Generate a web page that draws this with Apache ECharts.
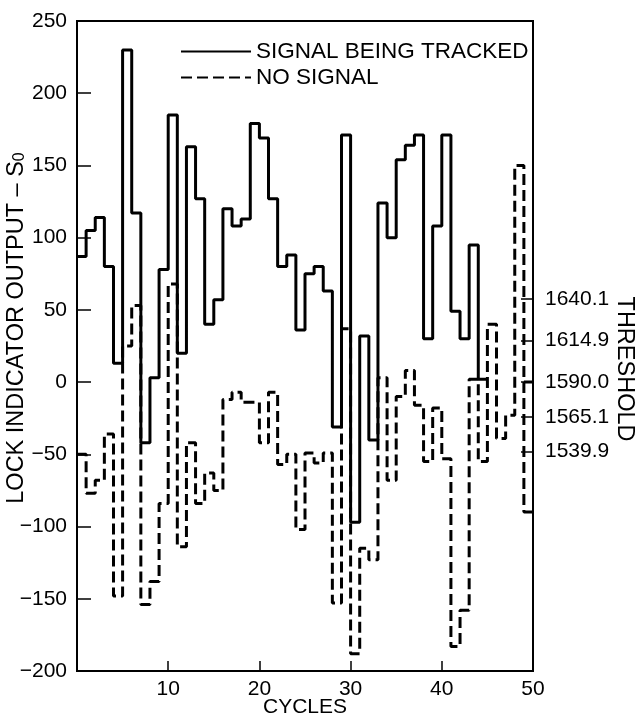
<!DOCTYPE html>
<html><head><meta charset="utf-8">
<script src="https://cdn.jsdelivr.net/npm/echarts@6/dist/echarts.min.js"></script>
<style>html,body{margin:0;padding:0;background:#fff}#c{width:636px;height:717px}</style>
</head><body><div id="c"></div>
<script>
// cycle index at the start of each step (the last value is held until cycle 50)
const cycles = [0,1,2,3,4,5,6,7,8,9,10,11,12,13,14,15,16,17,18,19,20,21,22,23,24,25,26,27,28,29,30,31,32,33,34,35,36,37,38,39,40,41,42,43,44,45,46,47,48,49];
const lastCycle = 50;
// lock indicator output, signal being tracked (solid)
const trackedValues = [87,105,114,80,13,230,117,-42,3,78,185,20,163,127,40,57,120,108,113,179,169,127,80,88,36,75,80,63,-31,171,-97,32,-40,124,100,154,164,171,30,108,171,49,30,95,2,null,null,null,null,0];
// lock indicator output, no signal (dashed)
const noSignalValues = [-50,-77,-68,-36,-148,25,53,-154,-138,-84,68,-114,-42,-84,-63,-75,-12,-7,-14,-14,-42,-7,-57,-50,-102,-49,-56,-49,-153,37,-188,-115,-123,3,-68,-10,8,-16,-55,-18,-53,-183,-158,2,-55,40,-39,-23,150,-90];
// threshold scale on the right
const thresholdLabels = ['1640.1','1614.9','1590.0','1565.1','1539.9'];
const thresholdPositions = [57.5, 28.7, 0, -24, -48];

function stepData(vals){
  const d = cycles.map((c,i)=>[c, vals[i]]);
  d.push([lastCycle, vals[vals.length-1]]);
  return d;
}
const font = '"Liberation Sans", Arial, Helvetica, sans-serif';
const chart = echarts.init(document.getElementById('c'));
chart.setOption({
  animation:false,
  backgroundColor:'#fff',
  textStyle:{fontFamily:font, color:'#000'},
  grid:{left:77, right:103, top:21, bottom:46, show:true, borderColor:'#000', borderWidth:2, outerBoundsMode:'none'},
  legend:{orient:'vertical', left:175, top:35, itemWidth:70, itemHeight:14, itemGap:3,
    itemStyle:{color:'rgba(0,0,0,0)', borderColor:'rgba(0,0,0,0)', borderWidth:0, opacity:0},
    textStyle:{fontSize:22.5, color:'#000', fontFamily:font},
    data:['SIGNAL BEING TRACKED','NO SIGNAL']},
  xAxis:{type:'value', min:0, max:50, interval:10,
    axisLine:{onZero:false, lineStyle:{color:'#000', width:2}},
    axisTick:{inside:true, length:10, lineStyle:{color:'#000', width:1.5}},
    axisLabel:{fontSize:21, color:'#000', margin:8, fontFamily:font, formatter:v=> v===0?'':String(v)},
    splitLine:{show:false},
    name:'CYCLES', nameLocation:'middle', nameGap:26, nameMoveOverlap:false,
    nameTextStyle:{fontSize:21, color:'#000', fontFamily:font}},
  yAxis:[{type:'value', min:-200, max:250, interval:50, position:'left',
    axisLine:{show:true, onZero:false, lineStyle:{color:'#000', width:2}},
    axisTick:{show:true, inside:true, length:14, lineStyle:{color:'#000', width:1.5}},
    axisLabel:{fontSize:21, color:'#000', margin:10, fontFamily:font, formatter:v=>String(v).replace('-','\u2212')},
    splitLine:{show:false},
    name:'{m|LOCK INDICATOR OUTPUT \u2013 S}{sub|0}', nameLocation:'middle', nameGap:49, nameMoveOverlap:false,
    nameTextStyle:{color:'#000', fontFamily:font, fontSize:23.5, padding:[0,0,0,36],
      rich:{m:{fontSize:23.5, fontFamily:font, color:'#000', lineHeight:23, verticalAlign:'top'},
            sub:{fontSize:16, fontFamily:font, color:'#000', lineHeight:16, verticalAlign:'bottom', padding:[10,0,0,0]}}}
  },{type:'value', min:-200, max:250, position:'right',
    axisLine:{show:true, onZero:false, lineStyle:{color:'#000', width:2}},
    axisTick:{show:true, inside:true, length:12, customValues:thresholdPositions, lineStyle:{color:'#000', width:1.5}},
    axisLabel:{fontSize:21, color:'#000', margin:12, fontFamily:font, customValues:thresholdPositions,
      formatter:v=>{let k=-1; thresholdPositions.forEach((p,i)=>{if(Math.abs(p-v)<1e-6)k=i;}); return k>=0?thresholdLabels[k]:'';}},
    splitLine:{show:false},
    name:'THRESHOLD', nameLocation:'middle', nameRotate:-90, nameGap:79, nameMoveOverlap:false,
    nameTextStyle:{fontSize:23.5, color:'#000', fontFamily:font, padding:[0,0,0,46]}
  }],
  series:[
    {name:'SIGNAL BEING TRACKED', type:'line', step:'end', symbol:'none', showSymbol:false, data:stepData(trackedValues),
     lineStyle:{color:'#000', width:3, type:'solid'}, itemStyle:{color:'#000'}},
    {name:'NO SIGNAL', type:'line', step:'end', symbol:'none', showSymbol:false, data:stepData(noSignalValues),
     lineStyle:{color:'#000', width:3, type:[11,5]}, itemStyle:{color:'#000'}}
  ]
});
</script></body></html>
